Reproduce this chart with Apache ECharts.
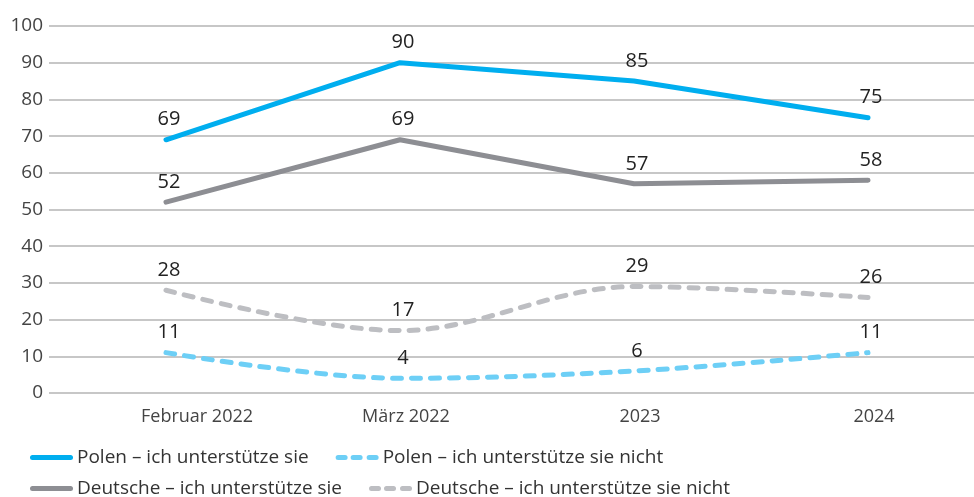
<!DOCTYPE html>
<html>
<head>
<meta charset="utf-8">
<script src="https://cdn.jsdelivr.net/npm/echarts@6/dist/echarts.min.js"></script>
<style>
  html, body { margin: 0; padding: 0; background: #fff; }
  #chart { width: 974px; height: 497px; }
</style>
</head>
<body>
<div id="chart"></div>
<script>
const categories = ['Februar 2022', 'März 2022', '2023', '2024']
const polenJa = [69, 90, 85, 75]
const deutscheJa = [52, 69, 57, 58]
const polenNein = [11, 4, 6, 11]
const deutscheNein = [28, 17, 29, 26]

const FONT = '"Open Sans", sans-serif'

// Legendensymbole: durchgehende Linie bzw. drei Striche
const solidIcon = 'path://M2.5,0 L40.5,0 A2.5,2.5 0 0 1 40.5,5 L2.5,5 A2.5,2.5 0 0 1 2.5,0 Z'
const dashIcon = 'path://M2.5,0 L9.5,0 A2.5,2.5 0 0 1 9.5,5 L2.5,5 A2.5,2.5 0 0 1 2.5,0 Z ' +
  'M17.5,0 L24.5,0 A2.5,2.5 0 0 1 24.5,5 L17.5,5 A2.5,2.5 0 0 1 17.5,0 Z ' +
  'M33.5,0 L40.5,0 A2.5,2.5 0 0 1 40.5,5 L33.5,5 A2.5,2.5 0 0 1 33.5,0 Z'

const valueLabel = {
  show: true,
  position: 'top',
  distance: 10,
  offset: [3, 0],
  color: '#222',
  fontSize: 20,
  fontFamily: FONT
}

const makeSeries = (name, data, color, dashed) => ({
  name: name,
  type: 'line',
  data: data,
  smooth: dashed ? 0.35 : false,
  showSymbol: true,
  symbol: 'circle',
  symbolSize: 0,
  lineStyle: {
    color: color,
    width: 5,
    type: dashed ? [9, 10] : 'solid',
    cap: 'round',
    join: 'round'
  },
  itemStyle: { color: color },
  label: valueLabel,
  emphasis: { disabled: true }
})

const legendBase = {
  left: 25,
  itemWidth: 43,
  itemHeight: 5,
  itemGap: 27,
  textStyle: { color: '#333', fontSize: 19, fontFamily: FONT, padding: [0, 0, 0, -1] }
}

const chart = echarts.init(document.getElementById('chart'))
chart.setOption({
  animation: false,
  // Gitter reicht rechts über den Rand hinaus
  grid: { left: 49, width: 936, top: 26, bottom: 104, outerBoundsMode: 'none' },
  legend: [
    Object.assign({}, legendBase, {
      top: 443,
      data: [
        { name: 'Polen – ich unterstütze sie', icon: solidIcon },
        { name: 'Polen – ich unterstütze sie nicht', icon: dashIcon }
      ]
    }),
    Object.assign({}, legendBase, {
      top: 474,
      data: [
        { name: 'Deutsche – ich unterstütze sie', icon: solidIcon },
        { name: 'Deutsche – ich unterstütze sie nicht', icon: dashIcon }
      ]
    })
  ],
  xAxis: {
    type: 'category',
    data: categories,
    boundaryGap: true,
    axisLine: { show: false },
    axisTick: { show: false },
    axisLabel: {
      color: '#444',
      fontSize: 18,
      fontFamily: FONT,
      margin: 15,
      // erste Beschriftung steht im Original deutlich rechts vom Punkt
      formatter: (v, i) => i === 0 ? '{a|' + v + '}' : '{b|' + v + '}',
      rich: {
        a: { fontSize: 18, fontFamily: FONT, color: '#444', padding: [0, 0, 0, 62] },
        b: { fontSize: 18, fontFamily: FONT, color: '#444', padding: [0, 0, 0, 12] }
      }
    }
  },
  yAxis: {
    type: 'value',
    min: 0,
    max: 100,
    interval: 10,
    axisLine: { show: false },
    axisTick: { show: false },
    axisLabel: { color: '#444', fontSize: 19, fontFamily: FONT, margin: 6 },
    splitLine: { lineStyle: { color: '#b5b5b5', width: 1.5 } }
  },
  series: [
    makeSeries('Polen – ich unterstütze sie', polenJa, '#00aeef', false),
    makeSeries('Polen – ich unterstütze sie nicht', polenNein, '#6dcff6', true),
    makeSeries('Deutsche – ich unterstütze sie', deutscheJa, '#8d8e93', false),
    makeSeries('Deutsche – ich unterstütze sie nicht', deutscheNein, '#bdbec2', true)
  ]
})
</script>
</body>
</html>
